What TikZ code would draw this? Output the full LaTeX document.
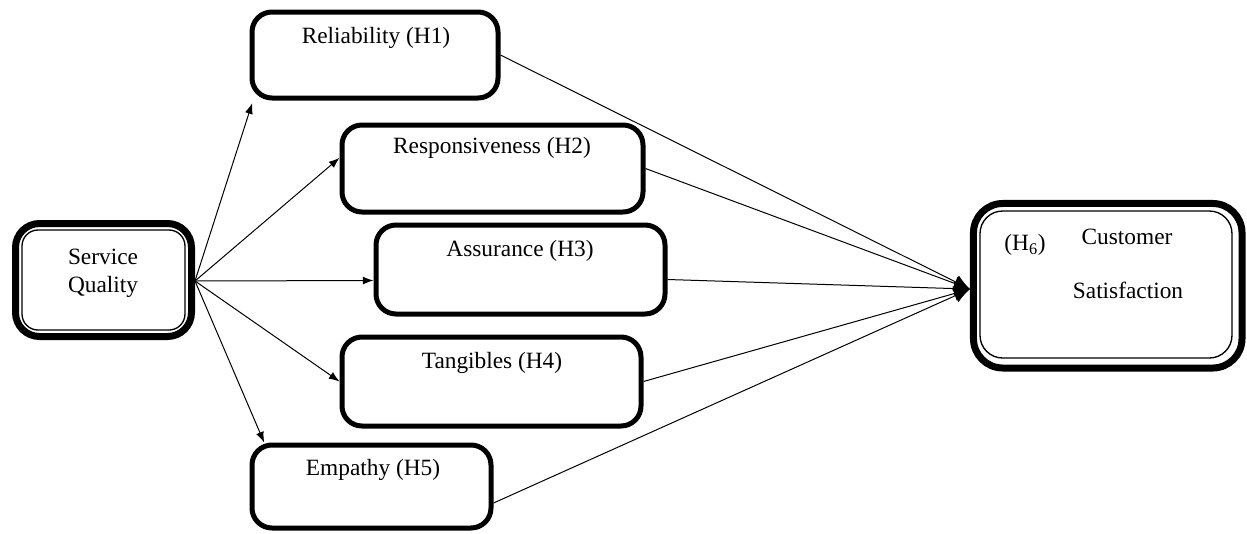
\documentclass[tikz,border=0pt]{standalone}
\usepackage{fontspec}
\setmainfont{Liberation Serif}
\usetikzlibrary{arrows.meta}

\tikzset{
  hbox/.style={draw, line width=3.75pt, rounded corners=15pt, inner sep=0pt},
  dbox/.style={draw, line width=5.25pt, rounded corners=18pt, inner sep=0pt},
  ibox/.style={draw, line width=1pt, rounded corners=13pt, inner sep=0pt},
  lbl/.style={inner sep=0.75pt, font=\fontsize{17.5}{20}\selectfont},
  link/.style={line width=0.75pt, -{Latex[length=8pt,width=6pt]}},
  tocs/.style={line width=0.75pt, -{Latex[length=12pt,width=11pt]}},
}

\begin{document}
\begin{tikzpicture}[x=0.75pt,y=0.75pt,yscale=-1,xscale=1]
\useasboundingbox (0,0) rectangle (1247,533);

%Shape: Double Rounded Rect [id:sq]
\node [dbox, minimum width=132pt, minimum height=84.75pt] (sq) at (103.5,280) {};
\node [ibox, minimum width=122.25pt, minimum height=75pt, rounded corners=12pt] (sqin) at (103.5,280) {};
%Shape: Double Rounded Rect [id:cs]
\node [dbox, minimum width=201.4pt, minimum height=123.4pt, rounded corners=22pt] (cs) at (1107.75,285.75) {};
\node [ibox, minimum width=189pt, minimum height=110.25pt, rounded corners=17pt] (csin) at (1106,284.5) {};

%Shape: Rounded Rect [id:rel]
\node [hbox, minimum width=184.5pt, minimum height=64.5pt] (rel) at (375,55) {};
%Shape: Rounded Rect [id:resp]
\node [hbox, minimum width=225.75pt, minimum height=65.25pt] (resp) at (492.5,168.5) {};
%Shape: Rounded Rect [id:ass]
\node [hbox, minimum width=216.75pt, minimum height=66.75pt] (ass) at (520.5,269.5) {};
%Shape: Rounded Rect [id:tan]
\node [hbox, minimum width=224.25pt, minimum height=66.75pt] (tan) at (491.5,381.5) {};
%Shape: Rounded Rect [id:emp]
\node [hbox, minimum width=179.25pt, minimum height=62.25pt] (emp) at (371.5,486.5) {};

% yscale=-1: positive yshift moves down
\coordinate (sqout) at ([yshift=0.75pt]sq.east);
\coordinate (csin-pt) at ([yshift=2.5pt]cs.west);

%Straight Lines [id:sq-rel]
\draw [link] (sqout) -- ([xshift=2pt,yshift=2pt]rel.south west);
%Straight Lines [id:sq-resp]
\draw [link] (sqout) -- ([yshift=-8pt]resp.west);
%Straight Lines [id:sq-ass]
\draw [link] (sqout) -- ([yshift=8.25pt]ass.west);
%Straight Lines [id:sq-tan]
\draw [link] (sqout) -- (tan.west);
%Straight Lines [id:sq-emp]
\draw [link] (sqout) -- ([xshift=11pt]emp.north west);

%Straight Lines [id:rel-cs]
\draw [tocs] (rel.east) -- (csin-pt);
%Straight Lines [id:resp-cs]
\draw [tocs] (resp.east) -- (csin-pt);
%Straight Lines [id:ass-cs]
\draw [tocs] ([yshift=7.5pt]ass.east) -- (csin-pt);
%Straight Lines [id:tan-cs]
\draw [tocs] (tan.east) -- (csin-pt);
%Straight Lines [id:emp-cs]
\draw [tocs] ([yshift=12.4pt]emp.east) -- (csin-pt);

% Text Node
\draw (103,257) node [lbl] (sqt1) {Service};
% Text Node
\draw (103,287) node [lbl] (sqt2) {Quality};
% Text Node
\draw (376,38) node [lbl] (relt) {Reliability (H1)};
% Text Node
\draw (492,148) node [lbl] (respt) {Responsiveness (H2)};
% Text Node
\draw (520,251) node [lbl] (asst) {Assurance (H3)};
% Text Node
\draw (492,363) node [lbl] (tant) {Tangibles (H4)};
% Text Node
\draw (373,470) node [lbl] (empt) {Empathy (H5)};
% Text Node
\draw (1025,245) node [lbl] (h6t) {(H\textsubscript{6})};
% Text Node
\draw (1127,237) node [lbl] (cst1) {Customer};
% Text Node
\draw (1128,290) node [lbl] (cst2) {Satisfaction};

\end{tikzpicture}
\end{document}
